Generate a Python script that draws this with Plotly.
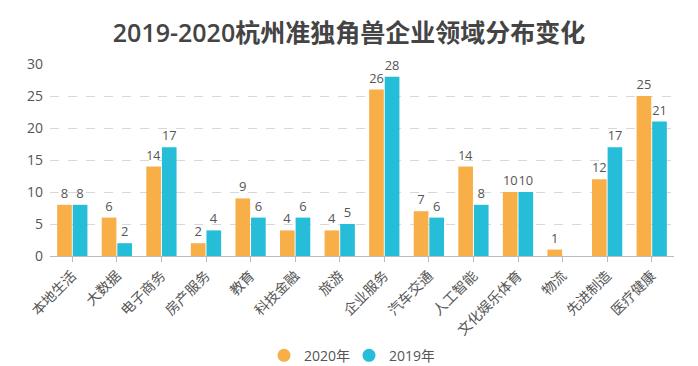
import plotly.graph_objects as go

categories = ["本地生活", "大数据", "电子商务", "房产服务", "教育", "科技金融", "旅游",
              "企业服务", "汽车交通", "人工智能", "文化娱乐体育", "物流", "先进制造", "医疗健康"]
values_2020 = [8, 6, 14, 2, 9, 4, 4, 26, 7, 14, 10, 1, 12, 25]
values_2019 = [8, 2, 17, 4, 6, 6, 5, 28, 6, 8, 10, None, 17, 21]
y_ticks = [0, 5, 10, 15, 20, 25, 30]

c2020 = "#F9AF48"
c2019 = "#25BDD7"
font = "Open Sans, Noto Sans CJK SC, sans-serif"

fig = go.Figure()
for name, vals, col in [("2020年", values_2020, c2020), ("2019年", values_2019, c2019)]:
    fig.add_trace(go.Bar(
        x=categories, y=vals, name=name, marker=dict(color=col, line=dict(width=0)),
        text=[("" if v is None else str(v)) for v in vals], textposition="outside",
        textfont=dict(size=13, color="#555555", family=font), cliponaxis=False,
        showlegend=False,
    ))
for name, col in [("2020年", c2020), ("2019年", c2019)]:
    fig.add_trace(go.Scatter(x=[None], y=[None], mode="markers", name=name,
                             marker=dict(symbol="circle", size=13, color=col)))

fig.update_layout(
    width=698, height=366,
    margin=dict(l=50, r=24, t=64, b=110, autoexpand=False),
    paper_bgcolor="white", plot_bgcolor="white",
    barmode="group", bargap=0.3, bargroupgap=0.06,
    title=dict(text="2019-2020杭州准独角兽企业领域分布变化", x=0.5, xanchor="center",
               y=0.91, yanchor="middle", automargin=False,
               font=dict(size=25, color="#444444", weight=600,
                         family="Open Sans, Noto Sans CJK SC, sans-serif")),
    font=dict(family=font, color="#555555"),
    legend=dict(orientation="h", x=0.5, xanchor="center", xref="container",
                y=0.028, yanchor="middle", yref="container",
                font=dict(size=14, color="#555555"), itemwidth=30,
                entrywidth=40, entrywidthmode="pixels"),
    xaxis=dict(tickangle=-45, tickfont=dict(size=14, color="#555555"), automargin=False,
               showline=True, linecolor="#BBBBBB", linewidth=1,
               ticks="outside", ticklen=5, tickcolor="#BBBBBB", showgrid=False),
    yaxis=dict(range=[0, 30], tickvals=y_ticks, tickfont=dict(size=14, color="#555555"),
               automargin=False, ticklabelstandoff=6,
               showgrid=True, gridcolor="#D8D8D8", griddash="dash", gridwidth=1,
               zeroline=False, showline=False),
)
fig.write_html("out.html", config={"displayModeBar": False},
               post_script="document.body.style.margin='0';")
